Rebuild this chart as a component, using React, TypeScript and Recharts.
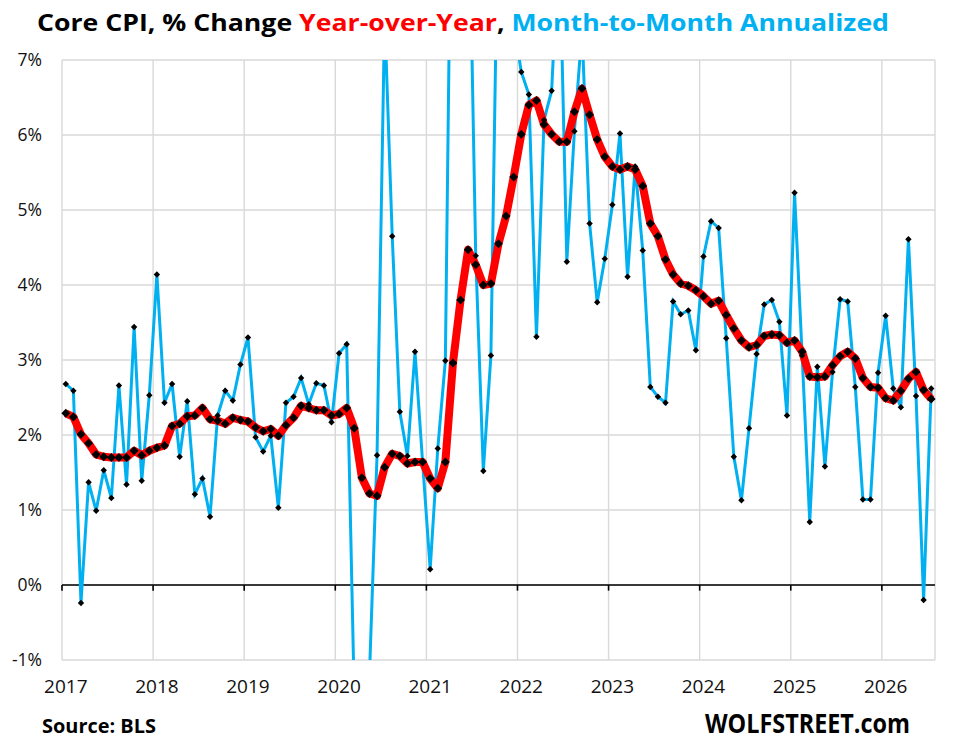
import { LineChart, Line, XAxis, YAxis, CartesianGrid, ReferenceLine } from 'recharts';

// Core CPI, monthly, Jan 2017 .. Jul 2026
const years = ['2017', '2018', '2019', '2020', '2021', '2022', '2023', '2024', '2025', '2026'];

// year-over-year % change
const yoy = [
  2.29, 2.24, 2.01, 1.89, 1.74, 1.71, 1.7, 1.7, 1.7, 1.79, 1.73, 1.79,
  1.83, 1.86, 2.12, 2.15, 2.25, 2.26, 2.36, 2.21, 2.19, 2.15, 2.23, 2.2,
  2.18, 2.1, 2.05, 2.08, 1.99, 2.13, 2.23, 2.39, 2.36, 2.33, 2.33, 2.26,
  2.28, 2.36, 2.09, 1.43, 1.22, 1.19, 1.57, 1.75, 1.72, 1.62, 1.64, 1.64,
  1.42, 1.29, 1.64, 2.96, 3.8, 4.47, 4.27, 4.0, 4.02, 4.55, 4.92, 5.44,
  6.01, 6.4, 6.46, 6.14, 6.01, 5.91, 5.91, 6.31, 6.62, 6.27, 5.94, 5.71,
  5.58, 5.54, 5.58, 5.54, 5.32, 4.82, 4.65, 4.34, 4.14, 4.02, 3.99, 3.93,
  3.85, 3.75, 3.79, 3.6, 3.42, 3.26, 3.17, 3.2, 3.32, 3.34, 3.33, 3.23,
  3.26, 3.11, 2.78, 2.77, 2.78, 2.93, 3.05, 3.11, 3.02, 2.76, 2.64, 2.63,
  2.49, 2.46, 2.59, 2.75, 2.84, 2.6, 2.48,
];

// month-to-month change, annualized %
const mom = [
  2.68, 2.59, -0.24, 1.37, 0.99, 1.53, 1.16, 2.66, 1.34, 3.44, 1.39, 2.53,
  4.14, 2.43, 2.68, 1.71, 2.45, 1.21, 1.42, 0.91, 2.26, 2.59, 2.46, 2.94,
  3.3, 1.97, 1.78, 1.99, 1.03, 2.43, 2.51, 2.76, 2.41, 2.69, 2.66, 2.17,
  3.09, 3.21, -1.5, -5.0, -1.2, 1.73, 7.6, 4.65, 2.31, 1.72, 3.11, 1.64,
  0.21, 1.82, 2.99, 11.5, 8.8, 9.8, 4.39, 1.52, 3.06, 9.5, 8.0, 7.5,
  6.84, 6.54, 3.31, 6.2, 6.59, 8.7, 4.31, 6.05, 7.4, 4.82, 3.77, 4.35,
  5.07, 6.02, 4.11, 5.58, 4.46, 2.64, 2.51, 2.43, 3.78, 3.61, 3.66, 3.13,
  4.38, 4.85, 4.76, 3.29, 1.71, 1.13, 2.09, 3.08, 3.74, 3.8, 3.51, 2.26,
  5.23, 3.06, 0.84, 2.91, 1.58, 2.84, 3.81, 3.78, 2.64, 1.14, 1.14, 2.83,
  3.59, 2.62, 2.37, 4.61, 2.52, -0.2, 2.62,
];

const yTicks = [-1, 0, 1, 2, 3, 4, 5, 6, 7];
const yearTicks = years.map((_, k) => k * 12);

const data = yoy.map((v, i) => ({ x: i + 0.5, yoy: v, mom: mom[i] }));

const W = 957;
const H = 748;
const FONT = '"Open Sans", "Noto Sans", sans-serif';
const HALF_MONTH = 873 / yoy.length / 2;

const diamond = (size: number) => (props: any) => {
  const { cx, cy, index } = props;
  if (cx == null || cy == null) return <g key={`d-${index}`} />;
  return (
    <path
      key={`d-${index}`}
      d={`M${cx},${cy - size}L${cx + size},${cy}L${cx},${cy + size}L${cx - size},${cy}Z`}
      fill="#000"
    />
  );
};

const YearTick = (props: any) => {
  const { x, y, payload } = props;
  return (
    <text
      x={x + HALF_MONTH}
      y={y + 33}
      textAnchor="middle"
      fontFamily={FONT}
      fontSize={19}
      fill="#111"
    >
      {years[payload.value / 12]}
    </text>
  );
};

export default function App() {
  return (
    <div style={{ position: 'absolute', left: 0, top: 0, width: W, height: H, background: '#fff' }}>
      <LineChart
        width={W}
        height={H}
        data={data}
        margin={{ top: 60, right: 22, bottom: 58, left: 12 }}
      >
        <CartesianGrid stroke="#D9D9D9" strokeWidth={1.4} />
        <XAxis
          type="number"
          dataKey="x"
          domain={[0, yoy.length]}
          ticks={yearTicks}
          interval={0}
          height={30}
          axisLine={false}
          tickLine={false}
          tickSize={0}
          tickMargin={0}
          tick={<YearTick />}
        />
        <YAxis
          domain={[-1, 7]}
          ticks={yTicks}
          allowDataOverflow
          width={50}
          axisLine={false}
          tickLine={false}
          tickSize={0}
          tickMargin={20}
          tickFormatter={(v) => `${v}%`}
          tick={{ fontFamily: FONT, fontSize: 17.5, fill: '#111' }}
        />
        <ReferenceLine y={0} stroke="#000" strokeWidth={1.6} />
        {yearTicks.map((t) => (
          <ReferenceLine
            key={`tick-${t}`}
            segment={[
              { x: t, y: 0 },
              { x: t, y: -0.075 },
            ]}
            stroke="#000"
            strokeWidth={1.6}
          />
        ))}
        <Line
          dataKey="mom"
          type="linear"
          stroke="#00B0F0"
          strokeWidth={3}
          dot={diamond(3.2)}
          activeDot={false}
          isAnimationActive={false}
        />
        <Line
          dataKey="yoy"
          type="linear"
          stroke="#FF0000"
          strokeWidth={8}
          strokeLinejoin="round"
          dot={diamond(4.4)}
          activeDot={false}
          isAnimationActive={false}
        />
      </LineChart>
      <svg
        width={W}
        height={H}
        style={{ position: 'absolute', left: 0, top: 0, pointerEvents: 'none' }}
      >
        <text
          x={37}
          y={31}
          fontFamily={FONT}
          fontWeight={700}
          fontSize={24}
          textLength={852}
          lengthAdjust="spacingAndGlyphs"
        >
          <tspan fill="#000">Core CPI, % Change </tspan>
          <tspan fill="#FF0000">Year-over-Year</tspan>
          <tspan fill="#000">, </tspan>
          <tspan fill="#00B0F0">Month-to-Month Annualized</tspan>
        </text>
        <text
          x={42}
          y={733}
          fontFamily={FONT}
          fontWeight={700}
          fontSize={19}
          textLength={114}
          lengthAdjust="spacingAndGlyphs"
          fill="#000"
        >
          Source: BLS
        </text>
        <text
          x={705}
          y={733}
          fontFamily={FONT}
          fontWeight={700}
          fontSize={26}
          textLength={205}
          lengthAdjust="spacingAndGlyphs"
          fill="#000"
        >
          WOLFSTREET.com
        </text>
      </svg>
    </div>
  );
}
